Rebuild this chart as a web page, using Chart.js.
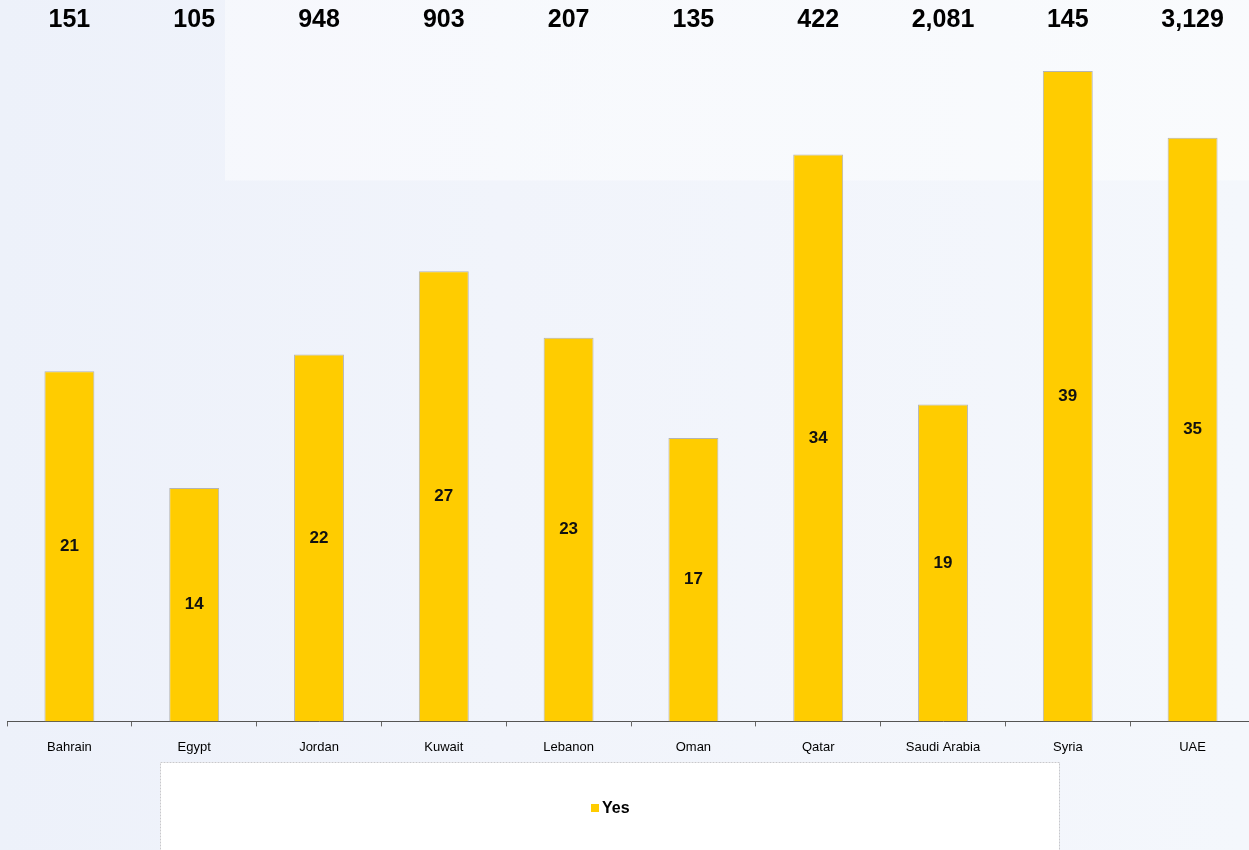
<!DOCTYPE html>
<html>
<head>
  <title>Yes by country</title>
  <script src="https://cdn.jsdelivr.net/npm/chart.js@4/dist/chart.umd.min.js"></script>
<style>
  html, body { margin: 0; padding: 0; overflow: hidden; }
  body {
    width: 1249px; height: 850px;
    background:
      linear-gradient(180deg, rgba(255,255,255,0.45) 0, rgba(255,255,255,0.45) 180px, rgba(255,255,255,0) 181px) 225px 0 / 1024px 850px no-repeat,
      linear-gradient(90deg, #edf1fa 0, #f1f4fb 40%, #f4f7fc 100%);
  }
  #wrap { position: absolute; left: 0; top: 0; width: 1256px; height: 850px; }
</style>
</head>
<body>
<div id="wrap"><canvas id="myCanvas"></canvas></div>
<script>
  // ---- data ----
  var countries = ['Bahrain', 'Egypt', 'Jordan', 'Kuwait', 'Lebanon', 'Oman', 'Qatar', 'Saudi Arabia', 'Syria', 'UAE'];
  var yesValues = [21, 14, 22, 27, 23, 17, 34, 19, 39, 35];
  var sampleSizes = ['151', '105', '948', '903', '207', '135', '422', '2,081', '145', '3,129'];
  var seriesName = 'Yes';
  var barColor = '#FFCC00';

  // labels inside bars + sample sizes above + legend box
  var extras = {
    id: 'extras',
    afterDatasetsDraw: function(chart) {
      var ctx = chart.ctx;
      var meta = chart.getDatasetMeta(0);
      ctx.save();
      ctx.textAlign = 'center';
      ctx.textBaseline = 'middle';
      meta.data.forEach(function(bar, i) {
        ctx.fillStyle = '#111';
        ctx.font = 'bold 17px "Liberation Sans", Arial, sans-serif';
        ctx.fillText(yesValues[i], bar.x, (bar.y + bar.base) / 2);
        ctx.font = 'bold 25px "Liberation Sans", Arial, sans-serif';
        ctx.fillStyle = '#000';
        ctx.fillText(sampleSizes[i], bar.x, 20);
      });

      // legend box
      ctx.fillStyle = '#ffffff';
      ctx.fillRect(160, 762, 899, 100);
      ctx.strokeStyle = '#c8c8cc';
      ctx.lineWidth = 1;
      ctx.setLineDash([2, 1]);
      ctx.strokeRect(160.5, 762.5, 899, 100);
      ctx.setLineDash([]);
      ctx.fillStyle = barColor;
      ctx.fillRect(591, 804, 8, 8);
      ctx.fillStyle = '#000';
      ctx.textAlign = 'left';
      ctx.font = 'bold 16px "Liberation Sans", Arial, sans-serif';
      ctx.fillText(seriesName, 602, 809);
      ctx.restore();
    }
  };

  var canv = document.getElementById('myCanvas');
  var chart = new Chart(canv, {
    type: 'bar',
    data: {
      labels: countries,
      datasets: [{
        label: seriesName,
        data: yesValues,
        backgroundColor: barColor,
        borderColor: '#b4b4b4',
        borderWidth: 1,
        barPercentage: 0.4,
        categoryPercentage: 1.0
      }]
    },
    options: {
      responsive: true,
      maintainAspectRatio: false,
      animation: false,
      layout: { padding: { top: 21, left: 7, right: 1, bottom: 82 } },
      plugins: {
        legend: { display: false },
        tooltip: { enabled: false }
      },
      scales: {
        x: {
          offset: true,
          grid: { display: true, drawOnChartArea: false, drawTicks: true, tickLength: 5, color: '#666', offset: true },
          border: { display: true, color: '#555', width: 1 },
          ticks: { color: '#000', padding: 13, font: { size: 13, family: '"Liberation Sans", Arial, sans-serif' } }
        },
        y: {
          display: false,
          min: 0,
          max: 42
        }
      }
    },
    plugins: [extras]
  });
</script>
</body>
</html>
